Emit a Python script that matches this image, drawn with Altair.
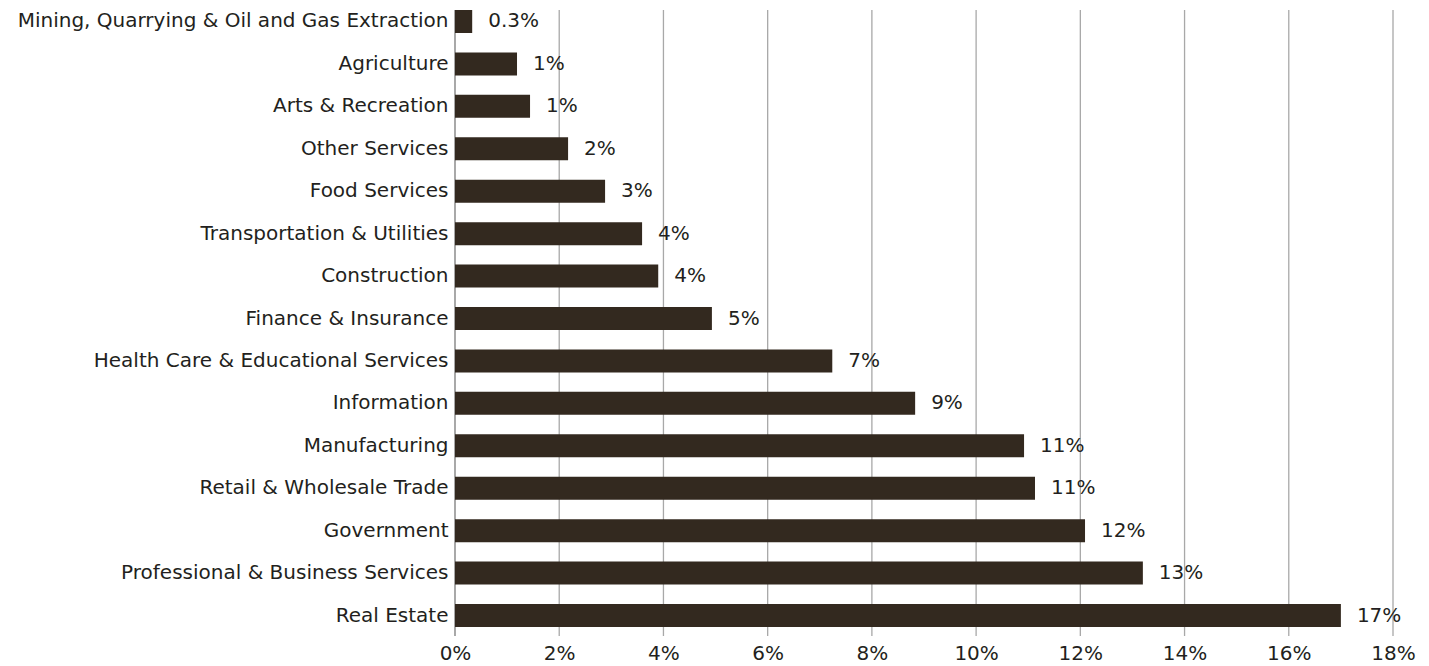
import altair as alt
import pandas as pd

categories = [
    "Mining, Quarrying & Oil and Gas Extraction",
    "Agriculture",
    "Arts & Recreation",
    "Other Services",
    "Food Services",
    "Transportation & Utilities",
    "Construction",
    "Finance & Insurance",
    "Health Care & Educational Services",
    "Information",
    "Manufacturing",
    "Retail & Wholesale Trade",
    "Government",
    "Professional & Business Services",
    "Real Estate",
]
values = [0.33, 1.19, 1.44, 2.17, 2.88, 3.59, 3.90, 4.93, 7.24, 8.83, 10.92, 11.13, 12.09, 13.2, 17.0]
labels = ["0.3%", "1%", "1%", "2%", "3%", "4%", "4%", "5%", "7%", "9%", "11%", "11%", "12%", "13%", "17%"]
grid_ticks = [2, 4, 6, 8, 10, 12, 14, 16, 18]
axis_ticks = [0, 2, 4, 6, 8, 10, 12, 14, 16, 18]

df = pd.DataFrame({"cat": categories, "val": values, "lab": labels})
grid_df = pd.DataFrame({"t": grid_ticks})
axis_df = pd.DataFrame({"t": [0]})

FONT = "DejaVu Sans"
FS = 20
TXT = "#231f20"

xscale = alt.Scale(domain=[0, 18], nice=False)
yscale = alt.Scale(paddingInner=0.458, paddingOuter=0)
xaxis = alt.Axis(
    values=axis_ticks,
    labelExpr="datum.value + '%'",
    grid=False,
    domain=False,
    ticks=False,
    labelFlush=False,
    labelPadding=16,
    labelFontSize=FS,
    labelFont=FONT,
    labelColor=TXT,
    title=None,
)
yaxis = alt.Axis(
    domain=False,
    ticks=False,
    labelPadding=7,
    labelFontSize=FS,
    labelFont=FONT,
    labelColor=TXT,
    labelLimit=600,
    title=None,
)

grid = alt.Chart(grid_df).mark_rule(color="#a8a8a8", strokeWidth=1.3).encode(
    x=alt.X("t:Q", scale=xscale, axis=xaxis),
    y=alt.value(0),
    y2=alt.value(626),
)
yline = alt.Chart(axis_df).mark_rule(color="#7a7a7a", strokeWidth=1.3).encode(
    x=alt.X("t:Q", scale=xscale, axis=xaxis),
    y=alt.value(0),
    y2=alt.value(626),
)

bars = alt.Chart(df).mark_bar(color="#33291f").encode(
    x=alt.X("val:Q", scale=xscale, axis=xaxis),
    y=alt.Y("cat:N", sort=categories, scale=yscale, axis=yaxis),
)

text = alt.Chart(df).mark_text(
    align="left", baseline="middle", dx=16, fontSize=FS, font=FONT, color=TXT
).encode(
    x=alt.X("val:Q", scale=xscale, axis=xaxis),
    y=alt.Y("cat:N", sort=categories, scale=yscale, axis=yaxis),
    text="lab:N",
)

chart = (
    alt.layer(grid, yline, bars, text)
    .properties(
        width=938,
        height=617,
        background="white",
        autosize=alt.AutoSizeParams(type="none"),
        padding={"left": 455, "top": 10, "right": 36, "bottom": 39},
    )
    .configure_view(stroke=None, strokeWidth=0)
)

chart.save("out.html", embed_options={"renderer": "svg", "actions": False})
